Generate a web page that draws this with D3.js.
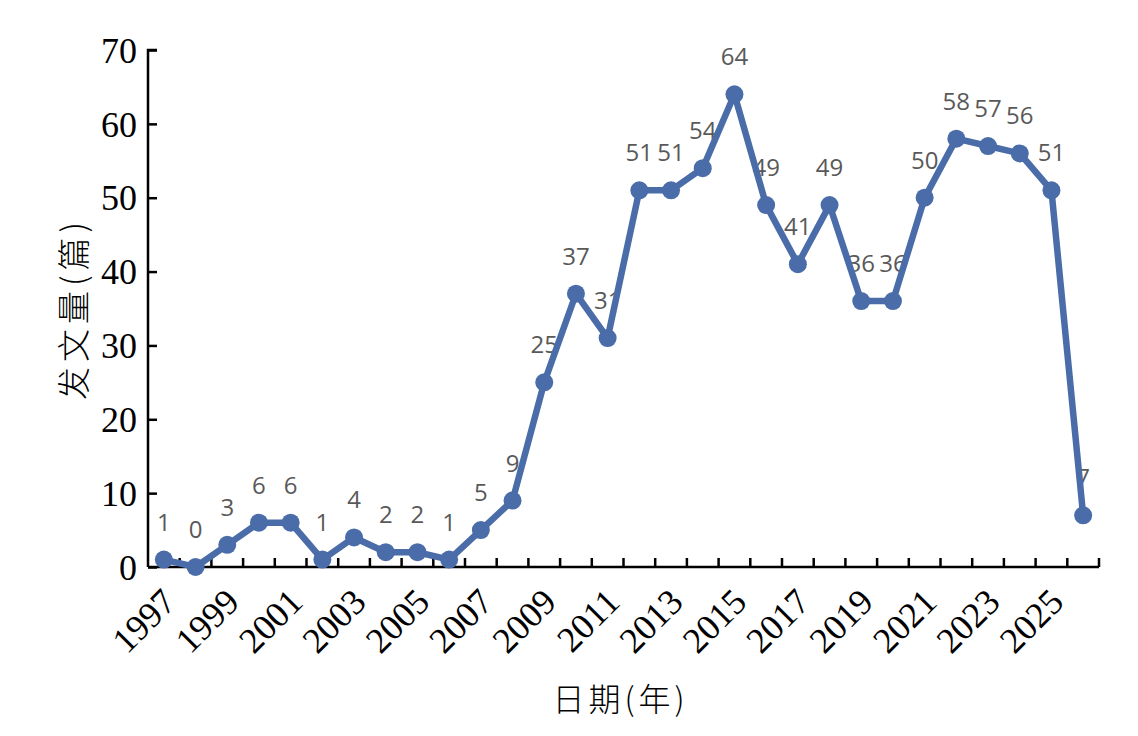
<!DOCTYPE html>
<html>
<head>
<meta charset="utf-8">
<script src="https://cdn.jsdelivr.net/npm/d3@7"></script>
<style>
  body { margin: 0; background: #fff; }
</style>
</head>
<body>
<script>
// publications per year
var years = d3.range(1997, 2027).map(String);
var counts = [1, 0, 3, 6, 6, 1, 4, 2, 2, 1, 5, 9, 25, 37, 31, 51, 51, 54, 64, 49, 41, 49, 36, 36, 50, 58, 57, 56, 51, 7];
var yTicks = [0, 10, 20, 30, 40, 50, 60, 70];
var xLabels = years.filter(function(d, i) { return i % 2 === 0; });

var margin = {top: 50, right: 39, bottom: 169, left: 148},
    width = 1138 - margin.left - margin.right,
    height = 736 - margin.top - margin.bottom;

var blue = "#4a6ca8";

var xScale = d3.scaleBand().domain(years).range([0, width]),
    xMap = function(d, i) { return xScale(years[i]) + xScale.bandwidth() / 2; };

var yScale = d3.scaleLinear().domain([0, 70]).range([height, 0]),
    yMap = function(d) { return yScale(d); };

var svg = d3.select("body").append("svg")
    .attr("width", 1138)
    .attr("height", 736)
  .append("g")
    .attr("transform", "translate(" + margin.left + "," + margin.top + ")");

// y axis
var yAxis = d3.axisRight(yScale).tickValues(yTicks).tickSize(9).tickFormat(d3.format("d"));
var gy = svg.append("g").call(yAxis);
gy.select(".domain").attr("d", "M0," + height + "V0h9").attr("stroke", "#000").attr("stroke-width", 2.5);
gy.selectAll(".tick line").attr("stroke", "#000").attr("stroke-width", 2.5);
gy.selectAll(".tick text")
    .attr("x", -11)
    .attr("dy", "0.34em")
    .style("text-anchor", "end")
    .attr("font-family", "'Liberation Serif', 'Times New Roman', serif")
    .attr("font-size", "36px")
    .attr("fill", "#000");

// x axis: ticks on band edges, label every other year
var edges = years.map(function(d) { return xScale(d); }).concat([width]);
var gx = svg.append("g").attr("transform", "translate(0," + height + ")");
gx.append("path")
    .attr("d", "M0,0H" + width)
    .attr("stroke", "#000").attr("stroke-width", 2.5).attr("fill", "none");
gx.selectAll(".xtick")
    .data(edges.slice(1))
  .enter().append("line")
    .attr("class", "xtick")
    .attr("x1", function(d) { return d; })
    .attr("x2", function(d) { return d; })
    .attr("y1", 0)
    .attr("y2", -9)
    .attr("stroke", "#000").attr("stroke-width", 2.5);
gx.selectAll(".xlabel")
    .data(xLabels)
  .enter().append("text")
    .attr("class", "xlabel")
    .attr("transform", function(d) {
      return "translate(" + (xScale(d) + xScale.bandwidth() / 2 + 14) + ",37) rotate(-45)";
    })
    .style("text-anchor", "end")
    .attr("font-family", "'Liberation Serif', 'Times New Roman', serif")
    .attr("font-size", "36px")
    .attr("fill", "#000")
    .text(function(d) { return d; });

// axis titles
svg.append("text")
    .attr("transform", "rotate(-90)")
    .attr("x", -height / 2)
    .attr("y", -74)
    .attr("dy", "0.35em")
    .style("text-anchor", "middle")
    .attr("font-family", "'Noto Sans CJK SC', sans-serif")
    .attr("font-weight", 300)
    .attr("font-size", "33px")
    .attr("letter-spacing", "5px")
    .attr("fill", "#000")
    .text("发文量(篇)");

svg.append("text")
    .attr("x", width / 2 - 3)
    .attr("y", height + 133)
    .attr("dy", "0.35em")
    .style("text-anchor", "middle")
    .attr("font-family", "'Noto Sans CJK SC', sans-serif")
    .attr("font-weight", 300)
    .attr("font-size", "32px")
    .attr("letter-spacing", "4px")
    .attr("fill", "#000")
    .text("日期(年)");

// data labels (under the line, as in the original)
svg.selectAll(".lbl")
    .data(counts)
  .enter().append("text")
    .attr("class", "lbl")
    .attr("x", xMap)
    .attr("y", function(d) { return yMap(d) - 29; })
    .style("text-anchor", "middle")
    .attr("font-family", "'Open Sans', sans-serif")
    .attr("font-size", "24px")
    .attr("fill", "#595959")
    .text(function(d) { return d; });

// line + markers
var line = d3.line().x(xMap).y(yMap);
svg.append("path")
    .datum(counts)
    .attr("d", line)
    .attr("fill", "none")
    .attr("stroke", blue)
    .attr("stroke-width", 6.5)
    .attr("stroke-linejoin", "round");

svg.selectAll(".dot")
    .data(counts)
  .enter().append("circle")
    .attr("class", "dot")
    .attr("r", 9)
    .attr("cx", xMap)
    .attr("cy", yMap)
    .style("fill", blue);
</script>
</body>
</html>
